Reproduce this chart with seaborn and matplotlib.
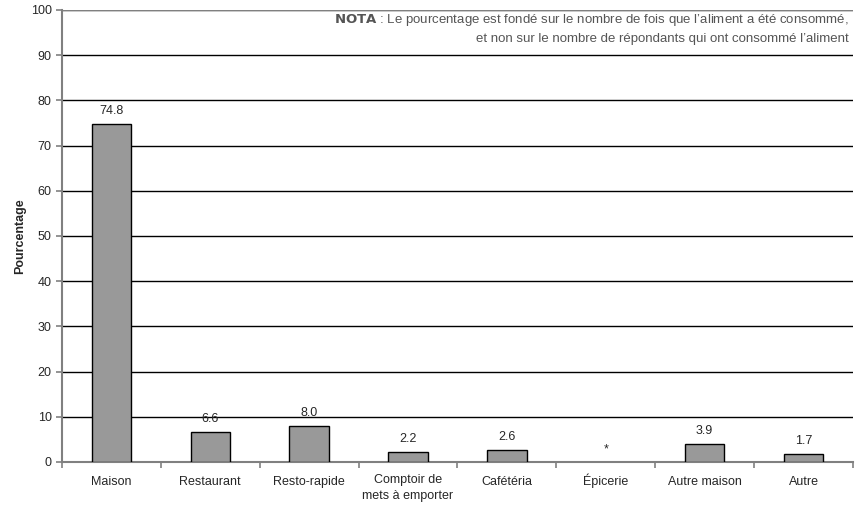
import seaborn as sns
import pandas as pd
import numpy as np
import matplotlib.pyplot as plt
from matplotlib.transforms import ScaledTranslation

# Lieu de consommation
categories = ['Maison', 'Restaurant', 'Resto-rapide', 'Comptoir de\nmets à emporter',
              'Cafétéria', 'Épicerie', 'Autre maison', 'Autre']
values = [74.8, 6.6, 8.0, 2.2, 2.6, np.nan, 3.9, 1.7]
labels = ['74.8', '6.6', '8.0', '2.2', '2.6', '*', '3.9', '1.7']

df = pd.DataFrame({'lieu': categories, 'pct': values})

sns.set_style('white')
plt.rcParams['font.family'] = ['Liberation Sans', 'DejaVu Sans']
plt.rcParams['mathtext.fontset'] = 'custom'
plt.rcParams['mathtext.bf'] = 'Liberation Sans Narrow:bold'

fig = plt.figure(figsize=(8.67, 5.14), dpi=100)
ax = fig.add_axes([62 / 867, 52 / 514, 791 / 867, 452 / 514])

sns.barplot(data=df, x='lieu', y='pct', order=categories, color='#999999',
            edgecolor='black', linewidth=1, width=0.4, saturation=1, ax=ax, zorder=3)

# valeurs au-dessus des barres
for i, (v, lab) in enumerate(zip(values, labels)):
    y = 0 if np.isnan(v) else v
    ax.annotate(lab, (i, y), xytext=(0, 5), textcoords='offset points',
                ha='center', va='bottom', fontsize=9)

ax.set_ylim(0, 100)
ax.set_xlim(-0.5, len(categories) - 0.5)
ax.set_yticks(range(0, 101, 10))
ax.yaxis.grid(True, color='black', linewidth=1)
ax.set_axisbelow(True)
for s in ['top', 'right']:
    ax.spines[s].set_visible(False)
for s in ['left', 'bottom']:
    ax.spines[s].set_color('#808080')
    ax.spines[s].set_linewidth(1.5)
ax.axhline(100, color='#808080', linewidth=1.5, zorder=4)

ax.set_xticks(range(len(categories)))
ax.set_xticklabels(categories, fontsize=9)
ax.tick_params(axis='x', length=0, pad=16.5)
ax.set_xticks(np.arange(-0.5, len(categories), 1), minor=True)
ax.tick_params(axis='x', which='minor', length=4, color='#808080', width=1.2, bottom=True)
ax.tick_params(axis='y', labelsize=9, length=4, color='#808080', width=1.2, left=True)

ax.set_xlabel('')
ax.set_ylabel('Pourcentage', fontsize=9, fontweight='bold', labelpad=3)

note_font = ['Liberation Sans Narrow', 'Liberation Sans']
ax.text(0.994, 0.996, r'$\bf{NOTA}$ : Le pourcentage est fondé sur le nombre de fois que l’aliment a été consommé,',
        transform=ax.transAxes, ha='right', va='top', fontsize=9.5, color='#555555', family=note_font)
ax.text(0.994, 0.95, 'et non sur le nombre de répondants qui ont consommé l’aliment',
        transform=ax.transAxes, ha='right', va='top', fontsize=9.5, color='#555555', family=note_font)

# alignement des étiquettes sur la ligne de base (la 1re ligne pour l'étiquette sur deux lignes)
for t in ax.get_xticklabels():
    t.set_verticalalignment('baseline')
    if '\n' in t.get_text():
        t.set_linespacing(1.45)
        t.set_transform(t.get_transform() + ScaledTranslation(0, -0.14, fig.dpi_scale_trans))

fig.savefig('out.png', dpi=100)
